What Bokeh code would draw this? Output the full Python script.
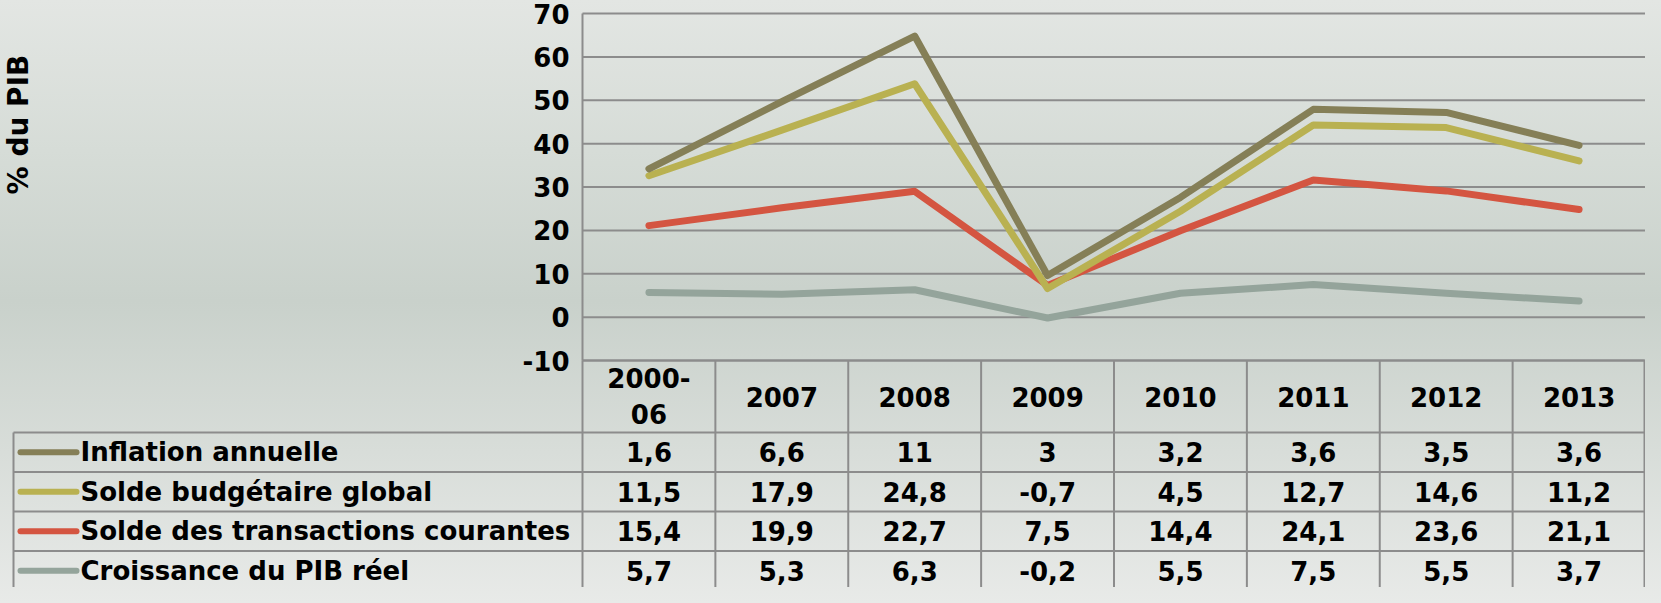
import math
from bokeh.plotting import figure
from bokeh.models import Range1d
from bokeh.embed import file_html
from bokeh.resources import INLINE
from bokeh.core.properties import value

# ---------------- data ----------------
categories = ["2000-\n06", "2007", "2008", "2009", "2010", "2011", "2012", "2013"]
inflation = [1.6, 6.6, 11, 3, 3.2, 3.6, 3.5, 3.6]
solde_budgetaire = [11.5, 17.9, 24.8, -0.7, 4.5, 12.7, 14.6, 11.2]
solde_transactions = [15.4, 19.9, 22.7, 7.5, 14.4, 24.1, 23.6, 21.1]
croissance = [5.7, 5.3, 6.3, -0.2, 5.5, 7.5, 5.5, 3.7]
series_names = ["Inflation annuelle", "Solde budgétaire global",
                "Solde des transactions courantes", "Croissance du PIB réel"]
series_values = [inflation, solde_budgetaire, solde_transactions, croissance]
colors = ["#857f57", "#b9b151", "#d45541", "#94a49b"]
y_ticks = [-10, 0, 10, 20, 30, 40, 50, 60, 70]
y_title = "% du PIB"

FONT = "DejaVu Sans"
GRID = "#8c8c8c"

# stacked lines (bottom = croissance)
n = len(categories)
xs = [i + 0.5 for i in range(n)]
stack_order = [3, 2, 1, 0]
cum = [0.0] * n
stacked = {}
for k in stack_order:
    cum = [c + v for c, v in zip(cum, series_values[k])]
    stacked[k] = list(cum)

# ---------------- layout constants (page pixels) ----------------
FIG_W, FIG_H = 1645, 587
PX0, PX1 = 8, 8 + FIG_W          # page x covered by the figure
PY0, PY1 = 8, 8 + FIG_H          # page y covered by the figure
X_LEFT = 21                      # table left border
X_AXIS = 590                     # chart left axis / first data column
X_RIGHT = PX1 - 1
COL_W = (PX1 - X_AXIS) / n
Y_TOP = 21                       # y = 70
Y_BOT = 368                      # y = -10
PPU = (Y_BOT - Y_TOP) / 80.0
Y_HEAD_BOT = 440
ROW_H = 39.5

p = figure(width=FIG_W, height=FIG_H, x_range=Range1d(PX0, PX1), y_range=Range1d(PY1, PY0),
           output_backend="svg", toolbar_location=None, min_border=0,
           background_fill_color=None, border_fill_color=None, outline_line_color=None)
p.axis.visible = False
p.grid.visible = False

# chart scales
p.extra_x_ranges = {"cx": Range1d(-(X_AXIS - PX0) / COL_W, n)}
p.extra_y_ranges = {"cy": Range1d(-10 - (PY1 - Y_BOT) / PPU, 70 + (Y_TOP - PY0) / PPU)}

# gridlines and axis line
p.segment([0] * len(y_ticks), y_ticks, [n] * len(y_ticks), y_ticks,
          x_range_name="cx", y_range_name="cy", line_color=GRID, line_width=2)
p.segment([0], [min(y_ticks)], [0], [max(y_ticks)], x_range_name="cx", y_range_name="cy",
          line_color=GRID, line_width=2)
p.text([0] * len(y_ticks), y_ticks, text=[str(t) for t in y_ticks],
       x_range_name="cx", y_range_name="cy", x_offset=-13,
       text_align="right", text_baseline="middle", text_font=value(FONT),
       text_font_style="bold", text_font_size="26px", text_color="black")

# y title
p.text([26], [132], text=[y_title], angle=math.pi / 2, text_align="center",
       text_baseline="middle", text_font=value(FONT), text_font_style="bold",
       text_font_size="28px", text_color="black")

# series
for k in stack_order:
    p.line(xs, stacked[k], x_range_name="cx", y_range_name="cy",
           line_color=colors[k], line_width=7, line_join="round", line_cap="round")

# ---------------- data table ----------------
hx0, hy0, hx1, hy1 = [X_AXIS], [Y_BOT], [X_RIGHT], [Y_BOT]
for r in range(len(series_names)):
    y = Y_HEAD_BOT + r * ROW_H
    hx0.append(X_LEFT); hx1.append(X_RIGHT); hy0.append(y); hy1.append(y)
p.segment(hx0, hy0, hx1, hy1, line_color=GRID, line_width=2)

vx, vy0, vy1 = [X_LEFT], [Y_HEAD_BOT], [PY1 + 5]
for i in range(1, n):
    vx.append(X_AXIS + i * COL_W); vy0.append(Y_BOT); vy1.append(PY1 + 5)
vx.append(X_AXIS); vy0.append(Y_BOT); vy1.append(PY1 + 5)
vx.append(X_RIGHT); vy0.append(Y_BOT); vy1.append(PY1 + 5)
p.segment(vx, vy0, vx, vy1, line_color=GRID, line_width=2)

col_centers = [X_AXIS + (i + 0.5) * COL_W for i in range(n)]
p.text(col_centers, [(Y_BOT + Y_HEAD_BOT) / 2] * n,
       text=categories, text_align="center", text_baseline="middle",
       text_font=value(FONT), text_font_style="bold", text_font_size="26px",
       text_color="black", text_line_height=1.2)

for r, (name, vals) in enumerate(zip(series_names, series_values)):
    yc = Y_HEAD_BOT + (r + 0.5) * ROW_H
    p.segment([28], [yc], [84], [yc], line_color=colors[r], line_width=6, line_cap="round")
    p.text([88], [yc], text=[name], text_align="left", text_baseline="middle",
           text_font=value(FONT), text_font_style="bold", text_font_size="26px",
           text_color="black")
    labels = [("%g" % v).replace(".", ",") for v in vals]
    p.text(col_centers, [yc] * n, text=labels, text_align="center", text_baseline="middle",
           text_font=value(FONT), text_font_style="bold", text_font_size="26px",
           text_color="black")

html = file_html(p, INLINE, title="Chart")
style = ("<style>html, body { background: linear-gradient(#e3e6e3 0%, #d6dcd7 25%, "
         "#c9d1cb 50%, #d8ddd9 75%, #e8eae8 100%) fixed; }</style>")
html = html.replace("</head>", style + "</head>", 1)
open("out.html", "w").write(html)
